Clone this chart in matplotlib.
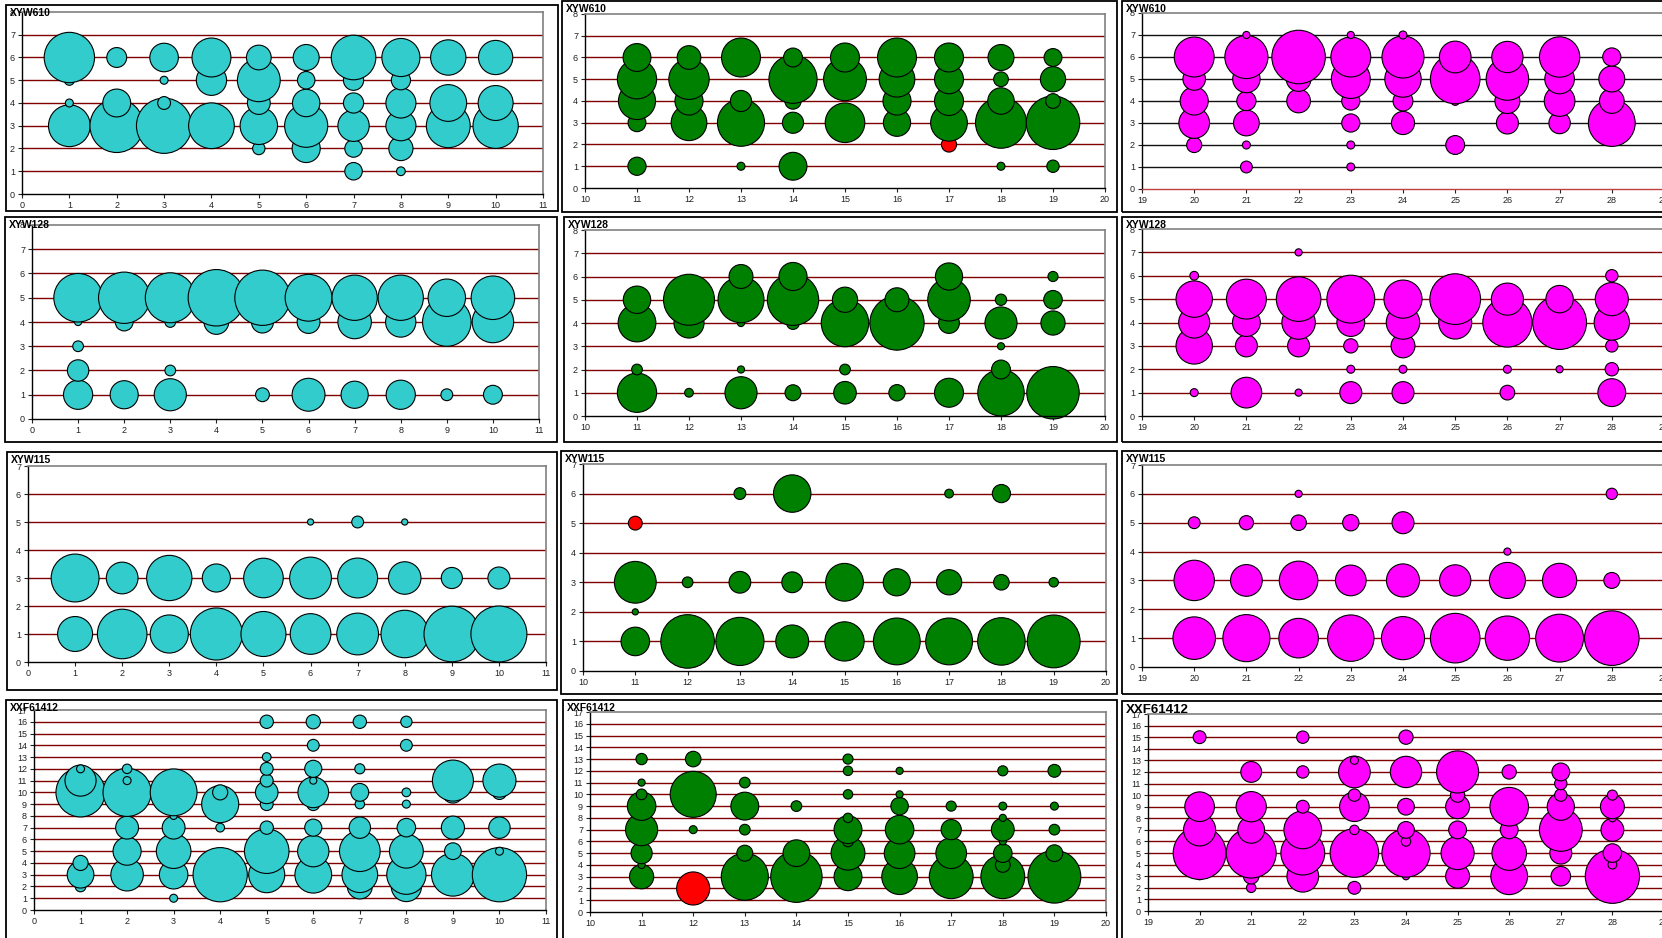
import matplotlib
matplotlib.use("Agg")
import matplotlib.pyplot as plt
from matplotlib.patches import Rectangle

plt.rcParams["font.family"] = ["Liberation Sans", "DejaVu Sans"]

W, H = 1662, 938

CYAN = "#33CCCC"
GREEN = "#008000"
MAGENTA = "#FF00FF"
RED = "#FF0000"
GRID_RED = "#800000"

# ======================== DATA ========================
# each dict: x position -> list of (level, count); bubble area follows count

XYW610_A = {
    1: [(6, 199), (5, 8), (4, 5), (3, 137)],
    2: [(6, 31), (4, 61), (3, 225), (2, 4)],
    3: [(6, 64), (5, 5), (4, 13), (3, 240), (2, 3)],
    4: [(6, 119), (5, 72), (3, 164)],
    5: [(6, 48), (5, 144), (4, 41), (3, 110), (2, 12)],
    6: [(6, 53), (5, 24), (4, 59), (3, 146), (2, 62)],
    7: [(6, 156), (5, 32), (4, 32), (3, 77), (2, 24), (1, 24)],
    8: [(6, 114), (5, 29), (4, 71), (3, 71), (2, 46), (1, 6)],
    9: [(6, 98), (4, 106), (3, 151)],
    10: [(6, 92), (4, 96), (3, 161)],
}
XYW610_B = {
    11: [(6, 61), (5, 121), (4, 108), (3, 25), (1, 26)],
    12: [(6, 44), (5, 128), (4, 62), (3, 100)],
    13: [(6, 119), (4, 35), (3, 174), (1, 5)],
    14: [(6, 28), (5, 182), (4, 21), (3, 35), (1, 61)],
    15: [(6, 66), (5, 144), (3, 123)],
    16: [(6, 119), (5, 100), (4, 62), (3, 58)],
    17: [(6, 66), (5, 66), (4, 66), (3, 106)],
    18: [(6, 53), (5, 17), (4, 55), (3, 204), (1, 5)],
    19: [(6, 25), (5, 50), (4, 17), (3, 225), (1, 12)],
}
XYW610_B_FLAGGED = [(17, 2, 18)]
XYW610_C = {
    20: [(6, 125), (5, 40), (4, 62), (3, 74), (2, 18)],
    21: [(7, 4), (6, 146), (5, 59), (4, 29), (3, 52), (2, 5), (1, 11)],
    22: [(6, 225), (5, 48), (4, 44)],
    23: [(7, 4), (6, 125), (5, 119), (4, 26), (3, 26), (2, 5), (1, 5)],
    24: [(7, 5), (6, 139), (5, 104), (4, 31), (3, 42)],
    25: [(6, 79), (5, 193), (4, 6), (2, 28)],
    26: [(6, 77), (5, 142), (4, 49), (3, 38)],
    27: [(6, 128), (5, 69), (4, 74), (3, 36)],
    28: [(6, 26), (5, 53), (4, 48), (3, 172)],
}

XYW128_A = {
    1: [(5, 185), (4, 4), (3, 9), (2, 36), (1, 67)],
    2: [(5, 207), (4, 25), (1, 62)],
    3: [(5, 196), (4, 9), (2, 9), (1, 81)],
    4: [(5, 250), (4, 48)],
    5: [(5, 240), (4, 38), (1, 15)],
    6: [(5, 172), (4, 41), (1, 85)],
    7: [(5, 161), (4, 88), (1, 58)],
    8: [(5, 161), (4, 72), (1, 67)],
    9: [(5, 110), (4, 185), (1, 11)],
    10: [(5, 149), (4, 135), (1, 28)],
}
XYW128_B = {
    11: [(5, 59), (4, 112), (2, 9), (1, 121)],
    12: [(5, 204), (4, 71), (1, 6)],
    13: [(6, 45), (5, 166), (4, 4), (2, 4), (1, 81)],
    14: [(6, 62), (5, 207), (4, 13), (1, 20)],
    15: [(5, 50), (4, 177), (2, 9), (1, 40)],
    16: [(5, 45), (4, 231), (3, 4), (1, 21)],
    17: [(6, 58), (5, 142), (4, 34), (1, 66)],
    18: [(5, 10), (4, 81), (3, 4), (2, 28), (1, 169)],
    19: [(6, 8), (5, 27), (4, 46), (1, 216)],
}
XYW128_C = {
    20: [(6, 6), (5, 104), (4, 76), (3, 104), (1, 5)],
    21: [(5, 125), (4, 61), (3, 38), (1, 74)],
    22: [(7, 4), (5, 156), (4, 88), (3, 38), (1, 4)],
    23: [(5, 180), (4, 61), (3, 16), (2, 5), (1, 38)],
    24: [(5, 114), (4, 88), (3, 45), (2, 5), (1, 38)],
    25: [(5, 202), (4, 86)],
    26: [(5, 81), (4, 190), (2, 5), (1, 17)],
    27: [(5, 59), (4, 228), (2, 4)],
    28: [(6, 12), (5, 86), (4, 98), (3, 12), (2, 14), (1, 61)],
}

XYW115_A = {
    1: [(3, 180), (1, 96)],
    2: [(3, 79), (1, 193)],
    3: [(3, 161), (1, 114)],
    4: [(3, 62), (1, 213)],
    5: [(3, 123), (1, 159)],
    6: [(5, 3), (3, 137), (1, 130)],
    7: [(5, 11), (3, 125), (1, 137)],
    8: [(5, 3), (3, 83), (1, 177)],
    9: [(3, 35), (1, 243)],
    10: [(3, 38), (1, 246)],
}
XYW115_B = {
    11: [(3, 137), (2, 3), (1, 64)],
    12: [(3, 9), (1, 225)],
    13: [(6, 11), (3, 37), (1, 182)],
    14: [(6, 110), (3, 34), (1, 85)],
    15: [(3, 112), (1, 121)],
    16: [(3, 58), (1, 172)],
    17: [(6, 6), (3, 50), (1, 172)],
    18: [(6, 26), (3, 19), (1, 177)],
    19: [(3, 7), (1, 219)],
}
XYW115_B_FLAGGED = [(11, 5, 15)]
XYW115_C = {
    20: [(5, 11), (3, 128), (1, 142)],
    21: [(5, 16), (3, 79), (1, 174)],
    22: [(6, 4), (5, 19), (3, 117), (1, 123)],
    23: [(5, 21), (3, 74), (1, 169)],
    24: [(5, 38), (3, 86), (1, 146)],
    25: [(3, 77), (1, 193)],
    26: [(4, 4), (3, 102), (1, 154)],
    27: [(3, 92), (1, 180)],
    28: [(6, 10), (3, 20), (1, 234)],
}

XXF61412_A = {
    1: [(12, 5), (11, 76), (10, 190), (4, 18), (3, 56), (2, 9)],
    2: [(12, 7), (11, 5), (10, 182), (7, 41), (5, 62), (3, 83)],
    3: [(10, 172), (8, 4), (7, 41), (5, 94), (3, 64), (1, 5)],
    4: [(10, 18), (9, 108), (7, 6), (3, 231)],
    5: [(16, 14), (13, 6), (12, 13), (11, 13), (10, 40), (9, 13), (7, 14),
        (5, 156), (3, 102)],
    6: [(16, 16), (14, 11), (12, 23), (11, 4), (10, 74), (9, 13), (7, 23),
        (5, 77), (3, 106)],
    7: [(16, 14), (12, 8), (10, 25), (9, 7), (7, 36), (5, 130), (3, 100),
        (2, 49)],
    8: [(16, 10), (14, 11), (10, 6), (9, 5), (7, 27), (5, 90), (3, 121),
        (2, 72)],
    9: [(11, 132), (10, 36), (7, 42), (5, 22), (3, 144)],
    10: [(11, 86), (10, 16), (7, 36), (5, 5), (3, 231)],
}
XXF61412_B = {
    11: [(13, 10), (11, 4), (10, 9), (9, 64), (7, 81), (5, 35), (4, 4), (3, 46)],
    12: [(13, 19), (10, 166), (7, 5)],
    13: [(11, 9), (9, 61), (7, 9), (5, 20), (3, 174)],
    14: [(9, 9), (5, 56), (3, 207)],
    15: [(13, 8), (12, 7), (10, 7), (8, 7), (7, 61), (6, 9), (5, 90), (3, 61)],
    16: [(12, 4), (10, 4), (9, 24), (7, 64), (5, 74), (3, 100)],
    17: [(9, 8), (7, 32), (5, 74), (3, 151)],
    18: [(12, 8), (9, 5), (8, 4), (7, 41), (6, 4), (5, 27), (4, 17), (3, 151)],
    19: [(12, 13), (9, 5), (7, 9), (5, 22), (3, 219)],
}
XXF61412_B_FLAGGED = [(12, 2, 86)]
XXF61412_C = {
    20: [(15, 13), (9, 69), (7, 81), (5, 219), (3, 4)],
    21: [(12, 34), (9, 72), (7, 56), (5, 196), (3, 19), (2, 7)],
    22: [(15, 12), (12, 12), (9, 13), (7, 112), (5, 151), (3, 79)],
    23: [(13, 5), (12, 79), (10, 12), (9, 69), (7, 7), (5, 185), (2, 13)],
    24: [(15, 16), (12, 77), (9, 22), (7, 22), (6, 7), (5, 182), (3, 4)],
    25: [(12, 139), (10, 16), (9, 45), (7, 25), (5, 86), (3, 45)],
    26: [(12, 16), (9, 117), (7, 25), (5, 94), (3, 106)],
    27: [(12, 25), (11, 12), (10, 12), (9, 58), (7, 144), (5, 38), (3, 30)],
    28: [(10, 8), (9, 45), (8, 4), (7, 41), (5, 27), (4, 6), (3, 231)],
}

# bubble area in pt^2 per count
SIZE_K = 6.6


def fig_box(x0, y0, x1, y1):
    return [x0 / W, 1 - y1 / H, (x1 - x0) / W, (y1 - y0) / H]


def bubble_panel(fig, title, data, flagged, color, xlim, ylim, plot_px, frame_px,
                 grid_color=GRID_RED, base_color="black", title_size=7.5):
    # chart area border
    fx0, fy0, fx1, fy1 = frame_px
    fig.add_artist(Rectangle((fx0 / W, 1 - fy1 / H), (fx1 - fx0) / W, (fy1 - fy0) / H,
                             transform=fig.transFigure, fill=False,
                             ec="black", lw=1.3, zorder=0))

    ax = fig.add_axes(fig_box(*plot_px))
    ax.set_xlim(*xlim)
    ax.set_ylim(*ylim)

    for level in range(ylim[0] + 1, ylim[1]):
        ax.axhline(level, color=grid_color, lw=1.0, zorder=1)

    points = [(x, y, v, color) for x, col in data.items() for y, v in col]
    points += [(x, y, v, RED) for x, y, v in flagged]
    points.sort(key=lambda p: (p[1], p[0]))
    ax.scatter([p[0] for p in points], [p[1] for p in points],
               s=[SIZE_K * p[2] for p in points], c=[p[3] for p in points],
               edgecolors="black", linewidths=0.8, zorder=2, clip_on=False)

    ax.set_xticks(range(xlim[0], xlim[1] + 1))
    ax.set_yticks(range(ylim[0], ylim[1] + 1))
    ax.tick_params(labelsize=6.5, length=3, width=0.8, colors="#222222",
                   pad=2, direction="out")
    for side in ("top", "right"):
        ax.spines[side].set_color("#808080")
        ax.spines[side].set_linewidth(1.2)
    ax.spines["left"].set_color("black")
    ax.spines["left"].set_linewidth(1.0)
    ax.spines["bottom"].set_color(base_color)
    ax.spines["bottom"].set_linewidth(1.0)
    ax.set_facecolor("none")

    fig.text((fx0 + 4) / W, 1 - (fy0 + 3) / H, title, fontsize=title_size,
             fontweight="bold", ha="left", va="top", zorder=5)
    return ax


fig = plt.figure(figsize=(W / 100, H / 100), dpi=100)

# row 1
bubble_panel(fig, "XYW610", XYW610_A, [], CYAN, (0, 11), (0, 8),
             (22, 12, 543, 194), (6, 5, 558, 211))
bubble_panel(fig, "XYW610", XYW610_B, XYW610_B_FLAGGED, GREEN, (10, 20), (0, 8),
             (585, 14, 1105, 188), (562, 1, 1117, 212))
bubble_panel(fig, "XYW610", XYW610_C, [], MAGENTA, (19, 29), (0, 8),
             (1142, 13, 1664, 189), (1122, 1, 1700, 212),
             grid_color="#111111", base_color="#C04040")

# row 2
bubble_panel(fig, "XYW128", XYW128_A, [], CYAN, (0, 11), (0, 8),
             (32, 225, 539, 419), (5, 217, 557, 442))
bubble_panel(fig, "XYW128", XYW128_B, [], GREEN, (10, 20), (0, 8),
             (585, 230, 1105, 416), (564, 217, 1117, 442))
bubble_panel(fig, "XYW128", XYW128_C, [], MAGENTA, (19, 29), (0, 8),
             (1142, 229, 1664, 416), (1122, 217, 1700, 442))

# row 3
bubble_panel(fig, "XYW115", XYW115_A, [], CYAN, (0, 11), (0, 7),
             (28, 466, 546, 662), (7, 452, 557, 690))
bubble_panel(fig, "XYW115", XYW115_B, XYW115_B_FLAGGED, GREEN, (10, 20), (0, 7),
             (583, 464, 1106, 671), (561, 451, 1117, 694))
bubble_panel(fig, "XYW115", XYW115_C, [], MAGENTA, (19, 29), (0, 7),
             (1142, 465, 1664, 667), (1122, 451, 1700, 694))

# row 4
bubble_panel(fig, "XXF61412", XXF61412_A, [], CYAN, (0, 11), (0, 17),
             (34, 710, 546, 910), (6, 700, 557, 945))
bubble_panel(fig, "XXF61412", XXF61412_B, XXF61412_B_FLAGGED, GREEN, (10, 20), (0, 17),
             (590, 712, 1106, 912), (563, 700, 1117, 945))
bubble_panel(fig, "XXF61412", XXF61412_C, [], MAGENTA, (19, 29), (0, 17),
             (1148, 714, 1664, 911), (1122, 701, 1700, 945), title_size=9.5)

fig.savefig("out.png", dpi=100, facecolor="white")
